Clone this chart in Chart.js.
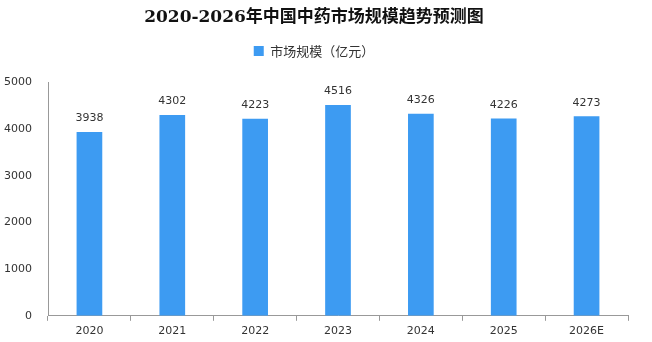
<!DOCTYPE html>
<html lang="zh">
  <head>
    <meta charset="UTF-8" />
    <title>2020-2026年中国中药市场规模趋势预测图</title>
    <script src="https://cdn.jsdelivr.net/npm/chart.js"></script>
    <style>
      html, body { margin: 0; padding: 0; background: #fff; }
      #wrap { width: 652px; height: 342px; }
    </style>
  </head>
  <body>
    <div id="wrap"><canvas id="chart"></canvas></div>
    <script>
      const years = ["2020", "2021", "2022", "2023", "2024", "2025", "2026E"];
      const marketSize = [3938, 4302, 4223, 4516, 4326, 4226, 4273];
      const yTicks = [0, 1000, 2000, 3000, 4000, 5000];

      // value labels over each bar
      const barValues = {
        id: "barValues",
        afterDatasetsDraw(chart) {
          const ctx = chart.ctx;
          const meta = chart.getDatasetMeta(0);
          ctx.save();
          ctx.font = "11px 'DejaVu Sans'";
          ctx.fillStyle = "#333";
          ctx.textAlign = "center";
          ctx.textBaseline = "bottom";
          meta.data.forEach((bar, i) => {
            ctx.fillText(String(marketSize[i]), bar.x, bar.y - 8);
          });
          ctx.restore();
        },
      };

      // leave some extra room under the legend
      const legendGap = {
        id: "legendGap",
        afterInit(chart) {
          const lg = chart.legend;
          const fit = lg.fit.bind(lg);
          lg.fit = function () {
            fit();
            this.height += 15;
          };
        },
      };

      const ctx = document.getElementById("chart");
      new Chart(ctx, {
        type: "bar",
        data: {
          labels: years,
          datasets: [
            {
              label: "市场规模（亿元）",
              data: marketSize,
              backgroundColor: "#3d9bf2",
              barPercentage: 0.31,
              categoryPercentage: 1,
            },
          ],
        },
        options: {
          responsive: true,
          maintainAspectRatio: false,
          animation: false,
          layout: { padding: { top: 7, right: 24, left: 0, bottom: 0 } },
          plugins: {
            title: {
              display: true,
              text: "2020-2026年中国中药市场规模趋势预测图",
              color: "#111",
              font: { size: 17, weight: "bold", family: "'DejaVu Serif', 'Noto Sans CJK SC'" },
              padding: { top: 0, bottom: 7 },
            },
            legend: {
              display: true,
              labels: {
                boxWidth: 10,
                boxHeight: 10,
                color: "#333",
                font: { size: 13, family: "'Noto Sans CJK SC'" },
              },
            },
            tooltip: { enabled: false },
          },
          scales: {
            x: {
              grid: {
                display: true,
                drawOnChartArea: false,
                tickLength: 5,
                color: "#999",
              },
              border: { color: "#999" },
              ticks: {
                color: "#333",
                font: { size: 11, family: "'DejaVu Sans'" },
                padding: 4,
              },
            },
            y: {
              min: 0,
              max: 5000,
              afterFit(scale) {
                scale.width = 48;
              },
              afterBuildTicks(scale) {
                scale.ticks = yTicks.map((v) => ({ value: v }));
              },
              grid: { display: false },
              border: { color: "#999" },
              ticks: {
                color: "#333",
                font: { size: 11, family: "'DejaVu Sans'" },
                padding: 8,
                callback: (v) => String(v),
              },
            },
          },
        },
        plugins: [barValues, legendGap],
      });
    </script>
  </body>
</html>
